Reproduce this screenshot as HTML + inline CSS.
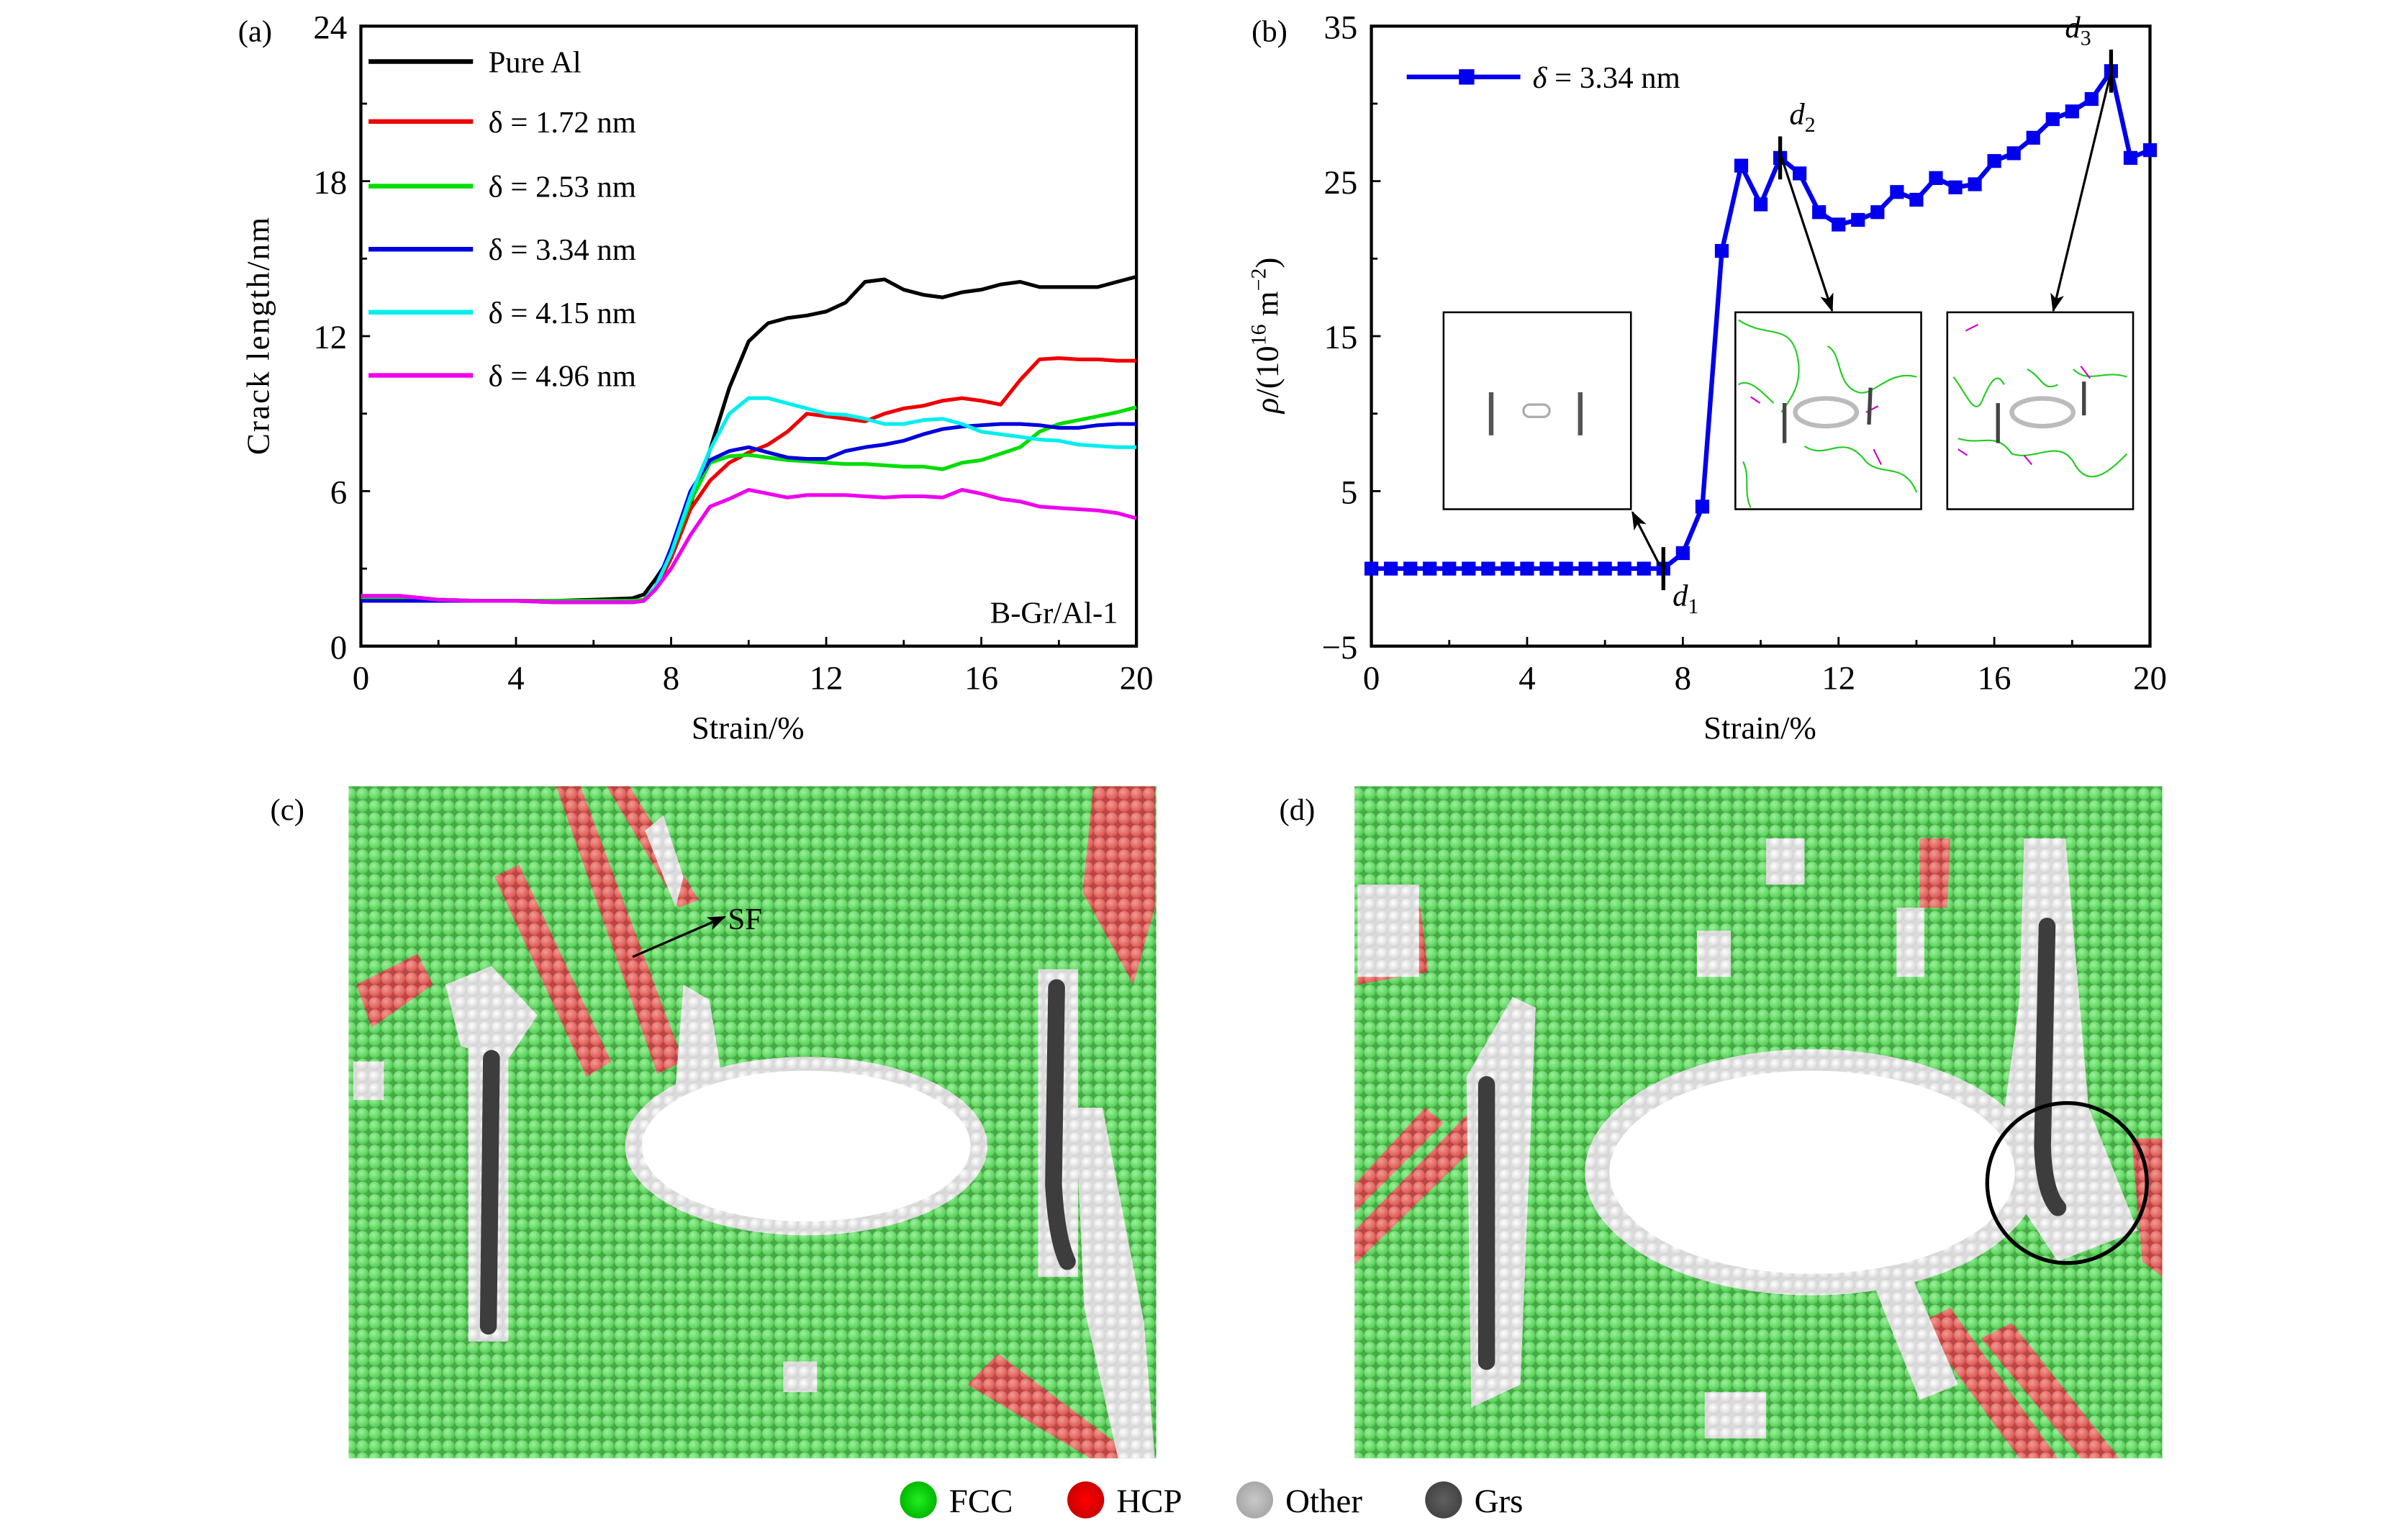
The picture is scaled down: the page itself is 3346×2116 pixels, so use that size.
<!DOCTYPE html>
<html><head><meta charset="utf-8"><style>
html,body{margin:0;padding:0;background:#fff;}
svg{display:block;}
text{font-family:"Liberation Serif",serif;fill:#000;}
</style></head><body>
<svg id="fig" width="3346" height="2116" viewBox="0 0 1568 990" preserveAspectRatio="none" xmlns="http://www.w3.org/2000/svg">
<defs>
<radialGradient id="gG" cx="0.4" cy="0.35" r="0.7"><stop offset="0" stop-color="#9ef09e"/><stop offset="1" stop-color="#4ccc4c"/></radialGradient>
<radialGradient id="gW" cx="0.4" cy="0.35" r="0.7"><stop offset="0" stop-color="#ffffff"/><stop offset="1" stop-color="#cfcfcf"/></radialGradient>
<radialGradient id="gR" cx="0.4" cy="0.35" r="0.7"><stop offset="0" stop-color="#f29a94"/><stop offset="1" stop-color="#d8524a"/></radialGradient>
<pattern id="pG" width="8" height="8" patternUnits="userSpaceOnUse"><rect width="8" height="8" fill="#48a848"/><circle cx="4" cy="4" r="3.9" fill="url(#gG)"/></pattern>
<pattern id="pW" width="8" height="8" patternUnits="userSpaceOnUse"><rect width="8" height="8" fill="#dadada"/><circle cx="4" cy="4" r="3.9" fill="url(#gW)"/></pattern>
<pattern id="pR" width="8" height="8" patternUnits="userSpaceOnUse"><rect width="8" height="8" fill="#b44"/><circle cx="4" cy="4" r="3.9" fill="url(#gR)"/></pattern>
<marker id="ah" markerWidth="12" markerHeight="9" refX="11" refY="4.5" orient="auto" markerUnits="userSpaceOnUse"><path d="M0,0 L12,4.5 L0,9 L3,4.5 Z" fill="#000"/></marker>
<radialGradient id="lg1"><stop offset="0" stop-color="#22ee22"/><stop offset="1" stop-color="#00b800"/></radialGradient>
<radialGradient id="lg2"><stop offset="0" stop-color="#f00"/><stop offset="1" stop-color="#c00"/></radialGradient>
<radialGradient id="lg3"><stop offset="0" stop-color="#c8c8c8"/><stop offset="1" stop-color="#a8a8a8"/></radialGradient>
<radialGradient id="lg4"><stop offset="0" stop-color="#606060"/><stop offset="1" stop-color="#444"/></radialGradient>
</defs>

<g>
<text x="155" y="27" font-size="20">(a)</text>
<text transform="translate(175,218) rotate(-90)" text-anchor="middle" font-size="21" letter-spacing="1">Crack length/nm</text>
<text x="487" y="480" text-anchor="middle" font-size="21">Strain/%</text>
<text x="728" y="405" text-anchor="end" font-size="20">B-Gr/Al-1</text>
<g id="axA"></g>
<g id="legA"></g>
</g>

<g>
<text x="815" y="27" font-size="20">(b)</text>
<text transform="translate(832,218) rotate(-90)" text-anchor="middle" font-size="21"><tspan font-style="italic">ρ</tspan>/(10<tspan font-size="14" dy="-8">16</tspan><tspan dy="8"> m</tspan><tspan font-size="14" dy="-8">−2</tspan><tspan dy="8">)</tspan></text>
<text x="1146" y="480" text-anchor="middle" font-size="21">Strain/%</text>
<g id="axB"></g>
<line x1="916" y1="50" x2="990" y2="50" stroke="#0000ee" stroke-width="3"/>
<rect x="950" y="45" width="10" height="10" fill="#0000ee"/>
<text x="998" y="57" font-size="20"><tspan font-style="italic">δ</tspan> = 3.34 nm</text>
<g>
<rect x="940" y="203" width="122" height="128" fill="#fff" stroke="#000" stroke-width="1.2"/>
<line x1="971" y1="255" x2="971" y2="283" stroke="#555" stroke-width="3"/>
<line x1="1029" y1="255" x2="1029" y2="283" stroke="#555" stroke-width="3"/>
<rect x="992" y="263" width="17" height="8" rx="4" fill="none" stroke="#aaa" stroke-width="1.5"/>
</g>
<g>
<rect x="1130" y="203" width="121" height="128" fill="#fff" stroke="#000" stroke-width="1.2"/>
<path d="M1132,208 C1150,220 1165,210 1170,230 C1175,250 1165,260 1160,268 M1132,250 C1140,245 1150,258 1155,262 M1190,225 C1200,230 1195,250 1210,255 C1220,258 1230,240 1248,245 M1175,290 C1190,300 1200,280 1215,300 C1225,310 1240,300 1248,320 M1135,300 C1140,310 1135,320 1140,330" fill="none" stroke="#2c2" stroke-width="1"/>
<path d="M1140,258 l6,4 M1215,268 l8,-4 M1220,292 l5,10" stroke="#c0c" stroke-width="1"/>
<line x1="1162" y1="262" x2="1162" y2="288" stroke="#444" stroke-width="2.5"/>
<line x1="1218" y1="252" x2="1217" y2="276" stroke="#444" stroke-width="2.5"/>
<ellipse cx="1189" cy="268" rx="20" ry="9" fill="none" stroke="#bbb" stroke-width="3"/>
</g>
<g>
<rect x="1268" y="203" width="121" height="128" fill="#fff" stroke="#000" stroke-width="1.2"/>
<path d="M1272,245 C1280,255 1285,270 1290,262 C1295,250 1300,240 1305,250 M1320,240 C1330,245 1330,255 1340,250 M1350,240 C1360,250 1370,240 1385,245 M1275,285 C1290,290 1300,280 1310,295 C1325,300 1340,285 1350,300 C1360,320 1375,305 1385,295" fill="none" stroke="#2c2" stroke-width="1"/>
<path d="M1275,292 l6,4 M1355,238 l6,8 M1280,215 l8,-4 M1318,296 l5,6" stroke="#c0c" stroke-width="1"/>
<line x1="1301" y1="262" x2="1301" y2="288" stroke="#444" stroke-width="2.5"/>
<line x1="1357" y1="248" x2="1357" y2="270" stroke="#444" stroke-width="2.5"/>
<ellipse cx="1330" cy="268" rx="20" ry="9" fill="none" stroke="#bbb" stroke-width="3"/>
</g>
<g stroke="#000" stroke-width="1.5" fill="none">
<line x1="1081" y1="368" x2="1063" y2="333" marker-end="url(#ah)"/>
<line x1="1160" y1="102" x2="1193" y2="202" marker-end="url(#ah)"/>
<line x1="1375" y1="45" x2="1337" y2="202" marker-end="url(#ah)"/>
</g>
<g id="marks"></g>
</g>

<g>
<text x="176" y="533" font-size="20">(c)</text>
<clipPath id="cc"><rect x="227" y="511" width="526" height="437"/></clipPath>
<g clip-path="url(#cc)">
<rect x="227" y="511" width="526" height="437" fill="url(#pG)"/>
<g fill="url(#pR)">
<polygon points="362,511 378,511 445,690 428,698"/>
<polygon points="322,570 338,562 398,690 382,700"/>
<polygon points="395,511 410,511 455,585 442,590"/>
<polygon points="712,511 752,511 752,590 738,640 705,580"/>
<polygon points="232,640 272,620 282,640 242,668"/>
<polygon points="630,900 650,880 740,948 710,948"/>
</g>
<g fill="url(#pW)">
<rect x="305" y="672" width="26" height="200"/>
<rect x="676" y="630" width="26" height="200"/>
<polygon points="700,720 718,720 745,860 752,948 728,948 706,850"/>
<polygon points="290,640 320,628 350,660 330,690 300,680"/>
<polygon points="230,690 250,690 250,715 230,715"/>
<polygon points="420,540 432,530 445,570 440,590"/>
<ellipse cx="525" cy="745" rx="118" ry="58"/>
<rect x="510" y="885" width="22" height="20"/>
<polygon points="445,640 462,650 470,700 440,705"/>
</g>
<ellipse cx="525" cy="745" rx="107" ry="49" fill="#fff"/>
<path d="M320,688 L318,862" stroke="#3d3d3d" stroke-width="11" stroke-linecap="round"/>
<path d="M688,642 L686,770 Q688,805 695,820" stroke="#3d3d3d" stroke-width="11" stroke-linecap="round" fill="none"/>
<line x1="412" y1="622" x2="472" y2="596" stroke="#000" stroke-width="1.5" marker-end="url(#ah)"/>
<text x="474" y="604" font-size="20">SF</text>
</g>
</g>

<g>
<text x="833" y="533" font-size="20">(d)</text>
<clipPath id="cd"><rect x="882" y="511" width="526" height="437"/></clipPath>
<g clip-path="url(#cd)">
<rect x="882" y="511" width="526" height="437" fill="url(#pG)"/>
<g fill="url(#pR)">
<polygon points="882,800 955,725 968,738 882,822"/>
<polygon points="882,770 928,720 940,730 882,788"/>
<polygon points="884,595 925,590 930,632 884,640"/>
<polygon points="1250,860 1270,850 1340,948 1315,948"/>
<polygon points="1290,870 1310,860 1380,948 1355,948"/>
<polygon points="1388,740 1408,740 1408,830 1395,820"/>
<polygon points="1250,545 1270,545 1268,590 1250,590"/>
</g>
<g fill="url(#pW)">
<polygon points="955,700 985,648 1000,655 990,900 958,915"/>
<ellipse cx="1180" cy="762" rx="148" ry="80"/>
<polygon points="1318,545 1345,545 1360,720 1392,800 1340,820 1300,760 1315,650"/>
<rect x="884" y="575" width="40" height="60"/>
<polygon points="1220,835 1245,830 1275,900 1250,910"/>
<rect x="1150" y="545" width="25" height="30"/>
<rect x="1105" y="605" width="22" height="30"/>
<rect x="1235" y="590" width="18" height="45"/>
<rect x="1110" y="905" width="40" height="30"/>
</g>
<ellipse cx="1180" cy="762" rx="132" ry="66" fill="#fff"/>
<path d="M968,705 L968,885" stroke="#3d3d3d" stroke-width="11" stroke-linecap="round"/>
<path d="M1333,602 L1330,745 Q1331,775 1340,785" stroke="#3d3d3d" stroke-width="11" stroke-linecap="round" fill="none"/>
<circle cx="1346" cy="769" r="52" fill="none" stroke="#000" stroke-width="2.5"/>
</g>
</g>

<g>
<ellipse cx="598" cy="975" rx="12" ry="12" fill="url(#lg1)"/>
<text x="618" y="983" font-size="22">FCC</text>
<ellipse cx="707" cy="975" rx="12" ry="12" fill="url(#lg2)"/>
<text x="727" y="983" font-size="22">HCP</text>
<ellipse cx="817" cy="975" rx="12" ry="12" fill="url(#lg3)"/>
<text x="837" y="983" font-size="22">Other</text>
<ellipse cx="940" cy="975" rx="12" ry="12" fill="url(#lg4)"/>
<text x="960" y="983" font-size="22">Grs</text>
</g>
</svg>
<script>
const NS = "http://www.w3.org/2000/svg";
const strainA = [0,1,2,3,4,5,6,7,7.3,7.6,8,8.5,9,9.5,10,10.5,11,11.5,12,12.5,13,13.5,14,14.5,15,15.5,16,16.5,17,17.5,18,18.5,19,19.5,20];
const pureAl = [1.8,1.8,1.8,1.75,1.75,1.75,1.8,1.85,2.0,2.6,3.5,5.5,7.6,10.0,11.8,12.5,12.7,12.8,12.95,13.3,14.1,14.2,13.8,13.6,13.5,13.7,13.8,14.0,14.1,13.9,13.9,13.9,13.9,14.1,14.3];
const d172 = [1.8,1.8,1.8,1.75,1.75,1.75,1.75,1.75,1.8,2.2,3.4,5.3,6.4,7.1,7.5,7.8,8.3,9.0,8.9,8.8,8.7,9.0,9.2,9.3,9.5,9.6,9.5,9.35,10.3,11.1,11.15,11.1,11.1,11.05,11.05];
const d253 = [1.8,1.8,1.8,1.75,1.75,1.75,1.75,1.75,1.8,2.3,3.6,5.6,7.1,7.35,7.4,7.3,7.2,7.15,7.1,7.05,7.05,7.0,6.95,6.95,6.85,7.1,7.2,7.45,7.7,8.3,8.6,8.75,8.9,9.05,9.25];
const d334 = [1.75,1.75,1.75,1.75,1.75,1.7,1.7,1.7,1.75,2.3,3.8,6.0,7.2,7.55,7.7,7.5,7.3,7.25,7.25,7.55,7.7,7.8,7.95,8.2,8.4,8.5,8.55,8.6,8.6,8.55,8.45,8.45,8.55,8.6,8.6];
const d415 = [1.95,1.95,1.8,1.75,1.75,1.7,1.7,1.7,1.75,2.3,3.6,5.8,7.6,9.0,9.6,9.6,9.4,9.2,9.0,8.95,8.8,8.6,8.6,8.75,8.8,8.6,8.3,8.2,8.1,8.0,7.95,7.8,7.75,7.7,7.7];
const d496 = [1.95,1.95,1.8,1.75,1.75,1.7,1.7,1.7,1.75,2.2,3.0,4.3,5.4,5.7,6.05,5.9,5.75,5.85,5.85,5.85,5.8,5.75,5.8,5.8,5.75,6.05,5.9,5.7,5.6,5.4,5.35,5.3,5.25,5.15,4.95];
const seriesA = [pureAl,d172,d253,d334,d415,d496];
const seriesNamesA = ["Pure Al","δ = 1.72 nm","δ = 2.53 nm","δ = 3.34 nm","δ = 4.15 nm","δ = 4.96 nm"];
const seriesColorsA = ["#000","#ee0000","#00dd00","#0000dd","#00eeee","#ee00ee"];
const xTicksA = [0,4,8,12,16,20];
const yTicksA = [0,6,12,18,24];
const strainB = [0,0.5,1,1.5,2,2.5,3,3.5,4,4.5,5,5.5,6,6.5,7,7.5,8,8.5,9,9.5,10,10.5,11,11.5,12,12.5,13,13.5,14,14.5,15,15.5,16,16.5,17,17.5,18,18.5,19,19.5,20];
const rhoB = [0,0,0,0,0,0,0,0,0,0,0,0,0,0,0,0,1,4,20.5,26,23.5,26.5,25.5,23,22.2,22.5,23,24.3,23.8,25.2,24.6,24.8,26.3,26.8,27.8,29,29.5,30.3,32.1,26.5,27];
const xTicksB = [0,4,8,12,16,20];
const yTicksB = [-5,5,15,25,35];
const markStrain = [7.5,10.5,19];
const markLabels = ["1","2","3"];

function mk(tag, attrs, parent){const e=document.createElementNS(NS,tag);for(const k in attrs)e.setAttribute(k,attrs[k]);parent.appendChild(e);return e;}
const A = {x0:235,x1:740,y0:420,y1:17,xmin:0,xmax:20,ymin:0,ymax:24};
const B = {x0:893,x1:1400,y0:420,y1:17,xmin:0,xmax:20,ymin:-5,ymax:35};
function sx(P,v){return P.x0+(v-P.xmin)/(P.xmax-P.xmin)*(P.x1-P.x0);}
function sy(P,v){return P.y0-(v-P.ymin)/(P.ymax-P.ymin)*(P.y0-P.y1);}

function drawAxes(P, g, xt, yt, nm){
  const fr = mk('rect',{x:P.x0,y:P.y1,width:P.x1-P.x0,height:P.y0-P.y1,fill:'none',stroke:'#000','stroke-width':2},g);
  
  
  xt.forEach((v,i)=>{
    const x=sx(P,v);
    mk('line',{x1:x,y1:P.y0,x2:x,y2:P.y0-6,stroke:'#000','stroke-width':1.3},g);
    if(i<xt.length-1){const xm=sx(P,(v+xt[i+1])/2);mk('line',{x1:xm,y1:P.y0,x2:xm,y2:P.y0-4,stroke:'#000','stroke-width':1.3},g);}
    const t=mk('text',{x:x,y:P.y0+28,'text-anchor':'middle','font-size':22},g);t.textContent=v;
    
    
  });
  yt.forEach((v,i)=>{
    const y=sy(P,v);
    mk('line',{x1:P.x0,y1:y,x2:P.x0+6,y2:y,stroke:'#000','stroke-width':1.3},g);
    if(i<yt.length-1){const ym=sy(P,(v+yt[i+1])/2);mk('line',{x1:P.x0,y1:ym,x2:P.x0+4,y2:ym,stroke:'#000','stroke-width':1.3},g);}
    const t=mk('text',{x:P.x0-9,y:y+8,'text-anchor':'end','font-size':22},g);t.textContent=(v<0?'−'+(-v):v);
    
    
  });
}
drawAxes(A, document.getElementById('axA'), xTicksA, yTicksA, 'a');
drawAxes(B, document.getElementById('axB'), xTicksB, yTicksB, 'b');

const gA = document.getElementById('axA');
seriesA.forEach((arr,si)=>{
  const d = arr.map((v,i)=>(i?'L':'M')+sx(A,strainA[i]).toFixed(1)+','+sy(A,v).toFixed(1)).join(' ');
  const p = mk('path',{d:d,fill:'none',stroke:seriesColorsA[si],'stroke-width':2.4,'stroke-linejoin':'round'},gA);
  
  
});
const legA = document.getElementById('legA');
seriesNamesA.forEach((n,i)=>{
  const y = [40,79,121,162,203,244][i];
  const l = mk('line',{x1:240,y1:y,x2:308,y2:y,stroke:seriesColorsA[i],'stroke-width':3},legA);
  
  
  const t = mk('text',{x:318,y:y+7,'font-size':20},legA);
  t.textContent = n;
  
  
});

const gB = document.getElementById('axB');
const dB = rhoB.map((v,i)=>(i?'L':'M')+sx(B,strainB[i]).toFixed(1)+','+sy(B,v).toFixed(1)).join(' ');
const pb = mk('path',{d:dB,fill:'none',stroke:'#0000ee','stroke-width':3,'stroke-linejoin':'round'},gB);


rhoB.forEach((v,i)=>{
  const r = mk('rect',{x:sx(B,strainB[i])-4.5,y:sy(B,v)-4.5,width:9,height:9,fill:'#0000ee'},gB);
  
  
});
const gm = document.getElementById('marks');
markStrain.forEach((s,i)=>{
  const idx = strainB.indexOf(s);
  const x = sx(B,s), y = sy(B,rhoB[idx]);
  const l = mk('line',{x1:x,y1:y-14,x2:x,y2:y+14,stroke:'#000','stroke-width':2.5},gm);
  
  
  const ty = i===0 ? y+24 : y-22;
  const tx = i===2 ? x-30 : x+6;
  const t = mk('text',{x:tx,y:ty,'font-size':20,'font-style':'italic'},gm);
  t.textContent = 'd';
  const sub = document.createElementNS(NS,'tspan');
  sub.setAttribute('font-size','14'); sub.setAttribute('dy','5'); sub.setAttribute('font-style','normal');
  sub.textContent = markLabels[i];
  t.appendChild(sub);
  
  
});
</script>
</body></html>
